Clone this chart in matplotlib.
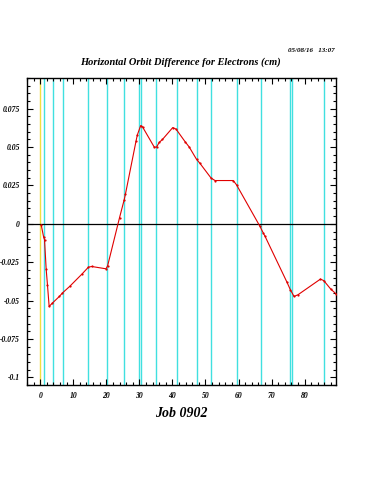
import numpy as np
import matplotlib.pyplot as plt
from matplotlib.ticker import MultipleLocator

# positions of monitor lines (cyan), reference line at 0 (yellow)
monitor_s = [1.0, 4.0, 6.8, 14.6, 20.2, 25.5, 29.9, 30.4, 35.0, 41.3,
             47.5, 51.7, 59.4, 66.7, 75.7, 76.2, 85.9]
ref_s = 0.0

# orbit difference readings
s = [0.3, 1.0, 1.3, 1.8, 2.2, 2.7, 3.7, 5.8, 6.7, 8.9, 12.6, 14.6, 15.6,
     19.9, 20.4, 24.0, 25.4, 25.8, 29.0, 29.4, 30.4, 31.0, 34.5, 35.2,
     36.0, 37.0, 40.1, 41.1, 43.8, 45.1, 47.3, 48.3, 51.7, 52.9, 58.4,
     59.4, 66.5, 67.5, 68.0, 74.7, 75.7, 76.8, 78.0, 84.8, 85.8, 87.9, 89.6]
dx = [-0.0007, -0.0083, -0.0104, -0.0295, -0.040, -0.0538, -0.0516, -0.0473,
      -0.0451, -0.0408, -0.0328, -0.0282, -0.0278, -0.0293, -0.0273, 0.0040,
      0.0156, 0.0195, 0.054, 0.058, 0.064, 0.063, 0.050, 0.050, 0.053, 0.055,
      0.0627, 0.0617, 0.0536, 0.050, 0.042, 0.0395, 0.0298, 0.0282, 0.0282,
      0.0254, -0.0017, -0.006, -0.008, -0.0382, -0.043, -0.0473, -0.0462,
      -0.036, -0.037, -0.0425, -0.0458]

font = {'family': 'Liberation Serif', 'style': 'italic', 'weight': 'bold'}

fig = plt.figure(figsize=(3.75, 5), dpi=100)
ax = fig.add_axes([0.072, 0.23, 0.824, 0.614])

for xm in monitor_s:
    ax.axvline(xm, color='#40e0e0', lw=1.0, zorder=1)
ax.axvline(ref_s, color='#f0e040', lw=1.0, zorder=1)
ax.axhline(0, color='black', lw=0.9, zorder=2)

ax.plot(s, dx, color='#e00000', lw=0.8, marker='o', ms=1.6, mew=0, zorder=3)

ax.set_xlim(-4, 89.5)
ax.set_ylim(-0.105, 0.095)
ax.xaxis.set_major_locator(MultipleLocator(10))
ax.xaxis.set_minor_locator(MultipleLocator(2))
ax.yaxis.set_major_locator(MultipleLocator(0.025))
ax.yaxis.set_minor_locator(MultipleLocator(0.005))
ax.yaxis.set_major_formatter(plt.FuncFormatter(lambda v, p: ('%g' % round(v, 4))))
ax.xaxis.set_major_formatter(plt.FuncFormatter(lambda v, p: '%d' % v))
ax.tick_params(which='both', direction='in', top=True, right=True,
               width=0.8, labelsize=5.5, pad=5)
ax.tick_params(which='major', length=4)
ax.tick_params(which='minor', length=2.5)
for lab in ax.get_xticklabels() + ax.get_yticklabels():
    lab.set_fontfamily('Liberation Serif')
    lab.set_fontstyle('italic')
    lab.set_fontweight('bold')
for sp in ax.spines.values():
    sp.set_linewidth(1.0)

fig.text(0.893, 0.898, '05/08/16   13:07', ha='right', va='center', fontsize=5, **font)
fig.text(0.48, 0.876, 'Horizontal Orbit Difference for Electrons (cm)',
         ha='center', va='center', fontsize=7.5, **font)
fig.text(0.483, 0.173, 'Job 0902', ha='center', va='center', fontsize=10, **font)

fig.savefig('out.png', dpi=100)
